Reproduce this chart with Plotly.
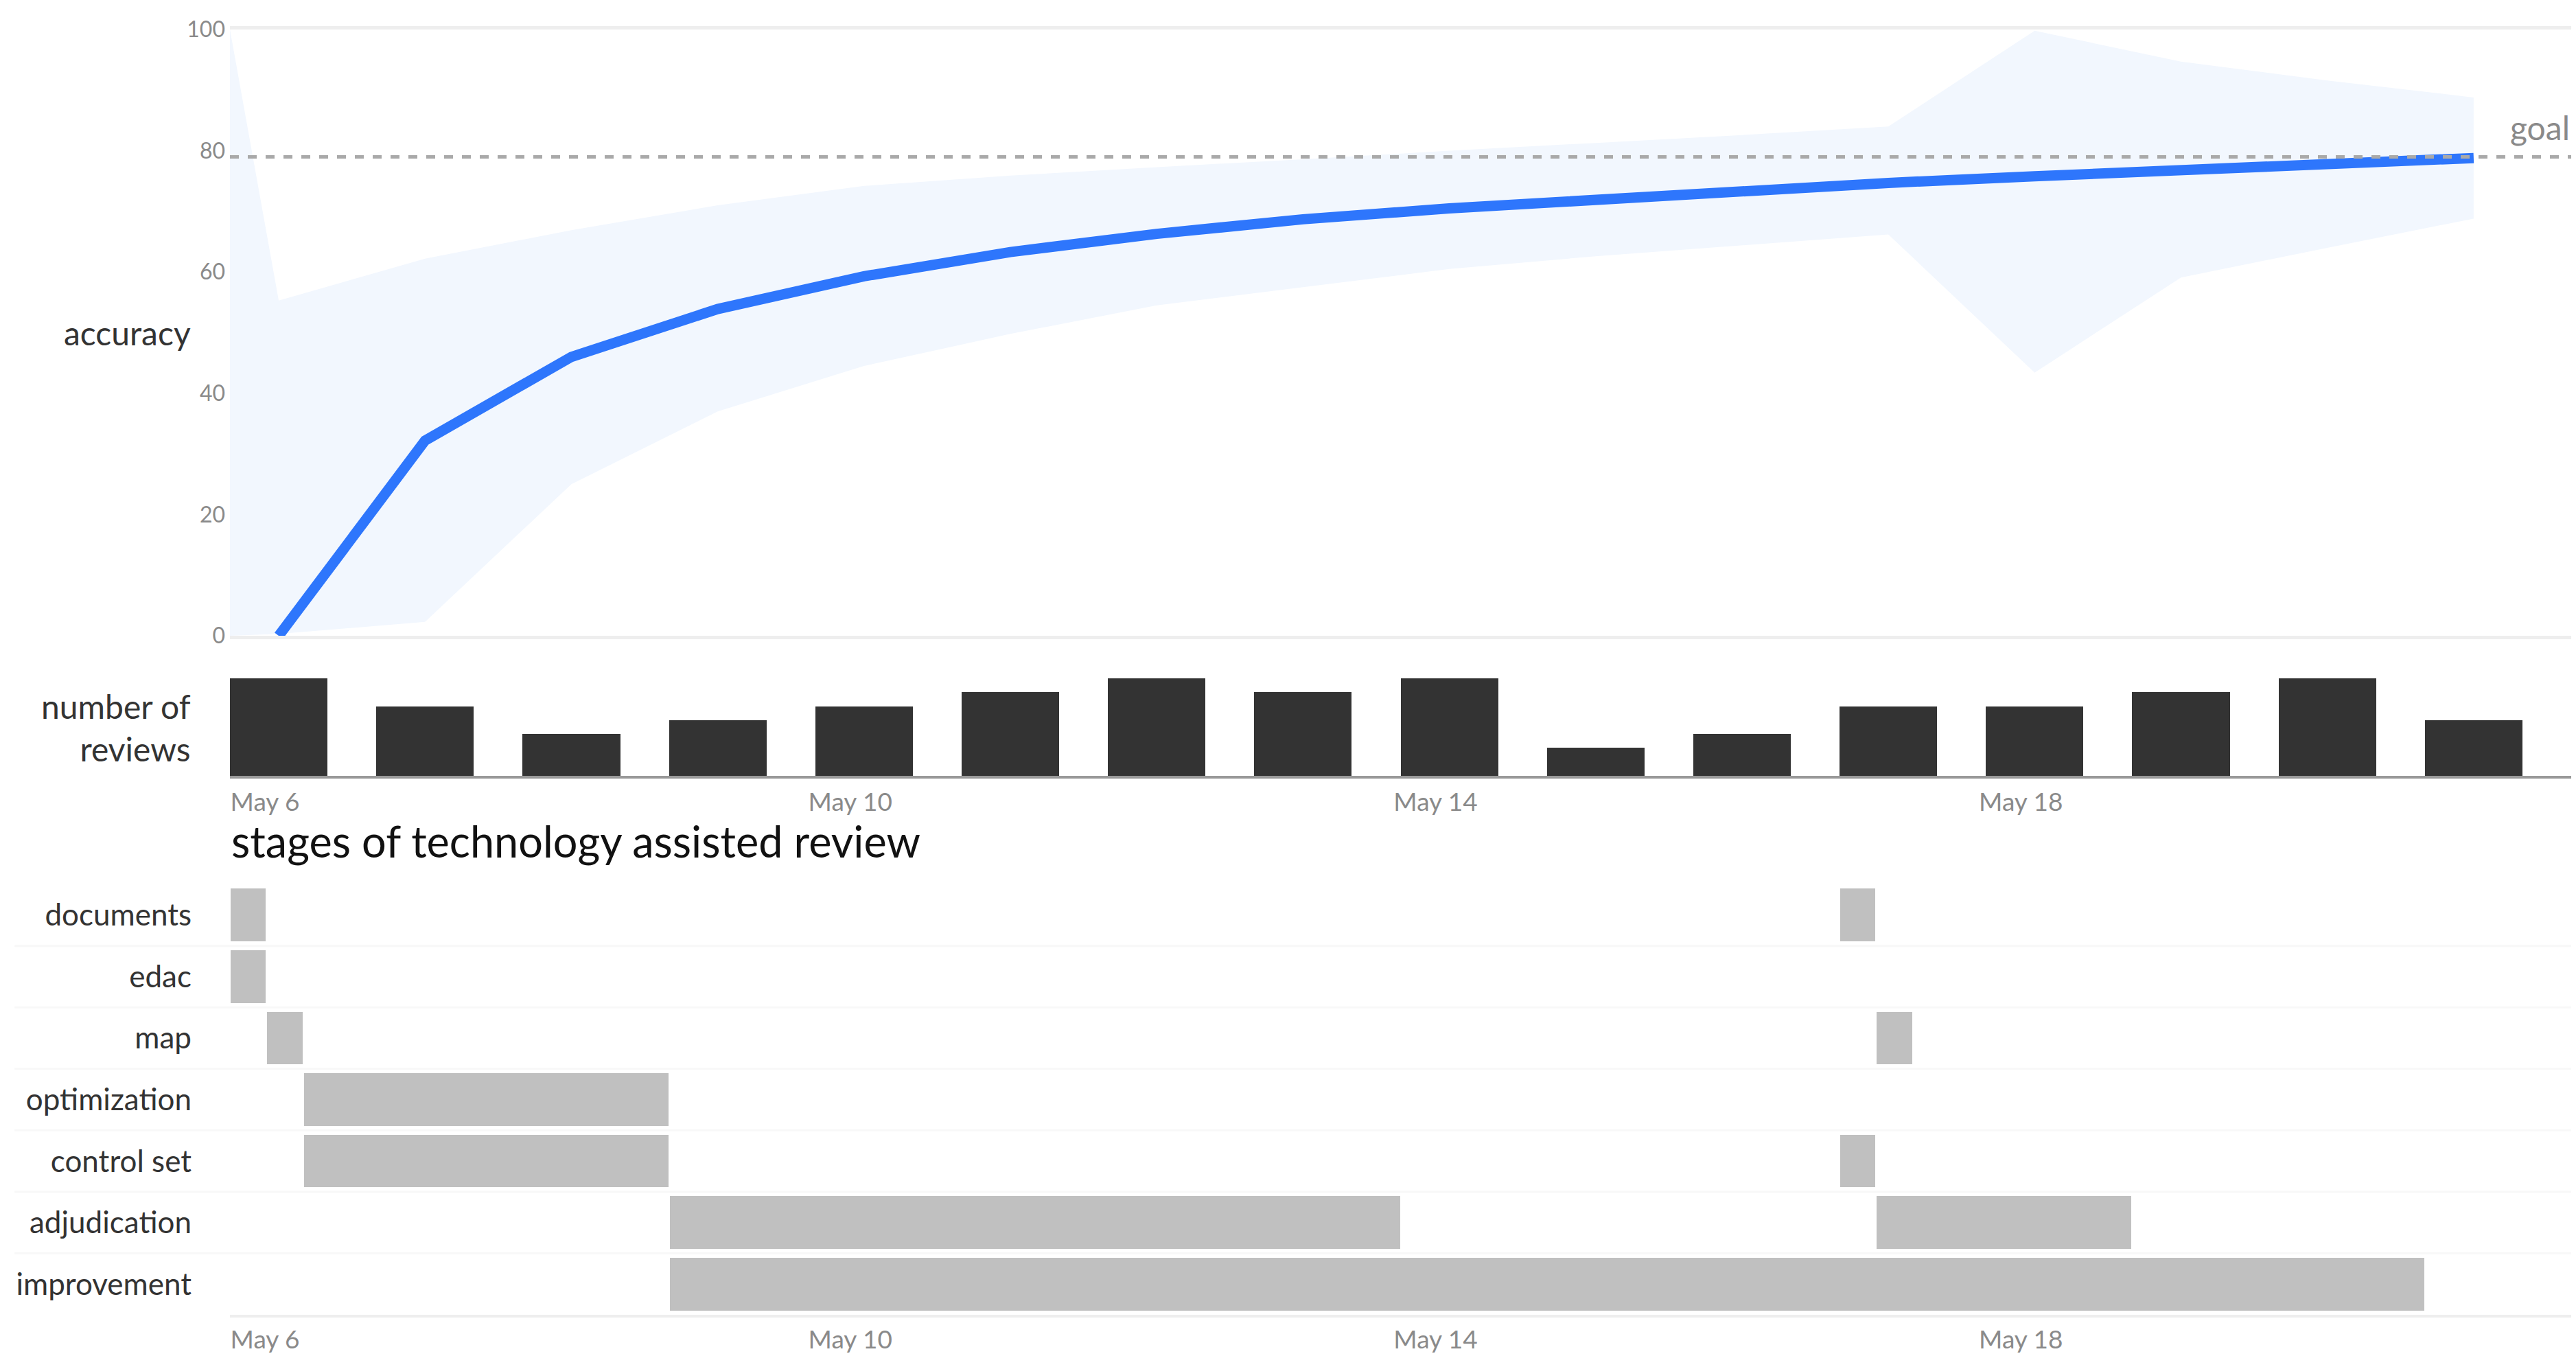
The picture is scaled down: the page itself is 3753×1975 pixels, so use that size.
import pandas as pd
import plotly.graph_objects as go

# ---------------- data ----------------
DAYS = ["2019-05-06", "2019-05-07", "2019-05-08", "2019-05-09", "2019-05-10",
        "2019-05-11", "2019-05-12", "2019-05-13", "2019-05-14", "2019-05-15",
        "2019-05-16", "2019-05-17", "2019-05-18", "2019-05-19", "2019-05-20",
        "2019-05-21"]
ACCURACY = [0, 32.2, 46.0, 53.9, 59.3, 63.3, 66.3, 68.7, 70.5, 72.0, 73.4,
            74.7, 75.8, 76.9, 77.9, 78.8]
REVIEWS = [7, 5, 3, 4, 5, 6, 7, 6, 7, 2, 3, 5, 5, 6, 7, 4]

BAND_START = "2019-05-06 00:00"
BAND_START_UPPER = 100
BAND_START_LOWER = 0
BAND_UPPER = [55.3, 62.2, 66.9, 71.0, 74.2, 75.9, 77.3, 78.6, 80.0, 81.3, 82.6,
              84.0, 99.8, 94.7, 91.6, 88.8]
BAND_LOWER = [0.3, 2.3, 25.0, 37.0, 44.5, 49.8, 54.5, 57.5, 60.5, 62.6, 64.4,
              66.2, 43.4, 59.1, 64.0, 68.8]

GOAL = 79
X_RANGE = ["2019-05-06", "2019-05-22"]

STAGES = ["documents", "edac", "map", "optimization", "control set",
          "adjudication", "improvement"]
TASK_STAGE = ["documents", "documents", "edac", "map", "map", "optimization",
              "control set", "control set", "adjudication", "adjudication",
              "improvement"]
TASK_START = ["2019-05-06 00:00", "2019-05-17 00:00", "2019-05-06 00:00",
              "2019-05-06 06:00", "2019-05-17 06:00", "2019-05-06 12:00",
              "2019-05-06 12:00", "2019-05-17 00:00", "2019-05-09 00:00",
              "2019-05-17 06:00", "2019-05-09 00:00"]
TASK_END = ["2019-05-06 06:00", "2019-05-17 06:00", "2019-05-06 06:00",
            "2019-05-06 12:00", "2019-05-17 12:00", "2019-05-09 00:00",
            "2019-05-09 00:00", "2019-05-17 06:00", "2019-05-14 00:00",
            "2019-05-19 00:00", "2019-05-21 00:00"]

# ---------------- derived ----------------
HOUR_MS = 3600 * 1000
point_times = [d + " 08:00" for d in DAYS]          # centre of each day's bar
band_x = [BAND_START] + point_times
band_up = [BAND_START_UPPER] + BAND_UPPER
band_lo = [BAND_START_LOWER] + BAND_LOWER

starts = pd.to_datetime(pd.Series(TASK_START))
ends = pd.to_datetime(pd.Series(TASK_END))
durations = ((ends - starts).dt.total_seconds() * 1000).tolist()
task_rows = [STAGES.index(s) for s in TASK_STAGE]

FONT = "Lato, 'Open Sans', sans-serif"
YTICK_FONT = dict(family=FONT, size=32, color="#8a8a8a")
XTICK_FONT = dict(family=FONT, size=37, color="#8a8a8a")
LABEL_FONT = dict(family=FONT, size=48, color="#333333")
STAGE_FONT = dict(family=FONT, size=44, color="#333333")

fig = go.Figure()

# confidence band
fig.add_trace(go.Scatter(x=band_x, y=band_up, mode="lines", line=dict(width=0),
                         hoverinfo="skip", showlegend=False, xaxis="x", yaxis="y"))
fig.add_trace(go.Scatter(x=band_x, y=band_lo, mode="lines", line=dict(width=0),
                         fill="tonexty", fillcolor="#f2f7fe",
                         hoverinfo="skip", showlegend=False, xaxis="x", yaxis="y"))
# accuracy line
fig.add_trace(go.Scatter(x=point_times, y=ACCURACY, mode="lines",
                         line=dict(color="#2e76fc", width=15),
                         showlegend=False, xaxis="x", yaxis="y"))
# number of reviews
fig.add_trace(go.Bar(x=point_times, y=REVIEWS, width=16 * HOUR_MS,
                     marker=dict(color="#333333", line=dict(width=0)),
                     showlegend=False, xaxis="x2", yaxis="y2"))
# stages gantt
fig.add_trace(go.Bar(y=task_rows, x=durations, base=TASK_START, orientation="h",
                     width=0.88,
                     marker=dict(color="#c0c0c0", line=dict(color="white", width=2)),
                     showlegend=False, xaxis="x3", yaxis="y3"))

date_axis_common = dict(type="date", range=X_RANGE, showgrid=False, zeroline=False,
                        tickformat="%b %-d", tick0="2019-05-06",
                        dtick=4 * 24 * HOUR_MS, ticks="", tickfont=XTICK_FONT,
                        ticklabelshift=51, fixedrange=True, automargin=False)

shapes = [dict(type="line", xref="x domain", yref="y", x0=0, x1=1, y0=GOAL, y1=GOAL,
               line=dict(color="#a9a9a9", width=5, dash="13px,13px"), layer="above")]
for i in range(len(STAGES) - 1):
    shapes.append(dict(type="line", xref="paper", yref="y3", x0=-0.092, x1=1,
                       y0=i + 0.5, y1=i + 0.5,
                       line=dict(color="#f8f8f8", width=3), layer="below"))

fig.update_layout(
    width=3753, height=1975,
    margin=dict(l=335, r=7, t=43, b=60, autoexpand=False),
    paper_bgcolor="white", plot_bgcolor="white",
    font=dict(family=FONT),
    bargap=0,
    xaxis=dict(domain=[0, 1], anchor="y", type="date", range=X_RANGE,
               showticklabels=False, showgrid=False, zeroline=False,
               showline=True, mirror=True, linecolor="#eeeeee", linewidth=5,
               fixedrange=True, automargin=False),
    yaxis=dict(domain=[0.5283, 1.0], anchor="x", range=[0, 100],
               tickvals=[0, 20, 40, 60, 80, 100], showgrid=False, zeroline=False,
               ticks="", tickfont=YTICK_FONT, ticklabelstandoff=6, fixedrange=True,
               automargin=False),
    xaxis2=dict(domain=[0, 1], anchor="y2", showline=True, linecolor="#999999",
                linewidth=4, ticklabelstandoff=3, **date_axis_common),
    yaxis2=dict(domain=[0.4193, 0.4952], anchor="x2", range=[0, 7], visible=False,
                fixedrange=True, automargin=False),
    xaxis3=dict(domain=[0, 1], anchor="y3", showline=True, linecolor="#eeeeee",
                linewidth=4, ticklabelstandoff=1, **date_axis_common),
    yaxis3=dict(domain=[0, 0.3349], anchor="x3", range=[6.5, -0.5],
                tickvals=list(range(len(STAGES))), ticktext=STAGES,
                showgrid=False, zeroline=False, ticks="", tickfont=STAGE_FONT,
                ticklabelstandoff=55, fixedrange=True, automargin=False),
    shapes=shapes,
    annotations=[
        dict(text="accuracy", xref="paper", yref="y domain", x=0, y=0.5,
             xanchor="right", yanchor="middle", xshift=-55, showarrow=False,
             font=LABEL_FONT),
        dict(text="number of<br>reviews", xref="paper", yref="y2 domain", x=0, y=0.5,
             xanchor="right", yanchor="middle", xshift=-55, align="right",
             showarrow=False, font=LABEL_FONT),
        dict(text="stages of technology assisted review", xref="paper", yref="paper",
             x=0, y=0.3686, xanchor="left", yanchor="middle", showarrow=False,
             font=dict(family=FONT, size=63, color="#111111")),
        dict(text="goal", xref="paper", yref="y", x=1, y=GOAL, xanchor="right",
             yanchor="bottom", yshift=12, showarrow=False,
             font=dict(family=FONT, size=48, color="#8a8a8a")),
    ],
)

fig.write_html("out.html", config={"displayModeBar": False},
               post_script="document.body.style.margin='0';document.body.style.overflow='hidden';")
